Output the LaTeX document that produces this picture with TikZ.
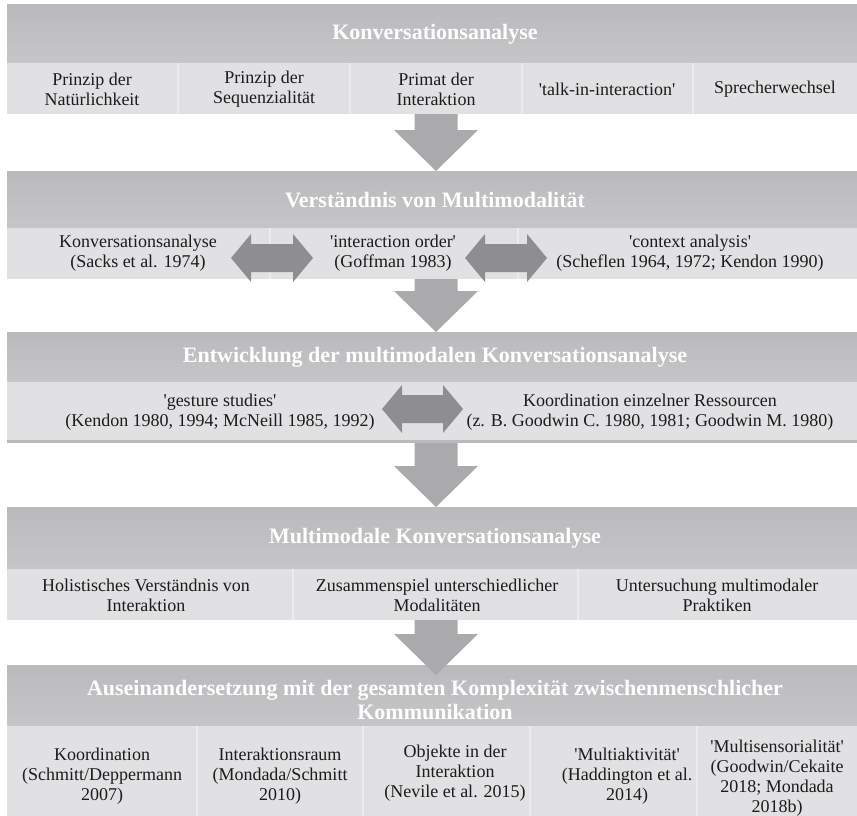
\documentclass[tikz,border=0pt]{standalone}
\usepackage{fontspec}
\setmainfont{Liberation Serif}[Ligatures=TeXOff]
\usetikzlibrary{positioning}
\usepackage{xcolor}
\definecolor{headtop}{RGB}{186,186,188}
\definecolor{headbot}{RGB}{198,198,200}
\definecolor{cellgray}{RGB}{225,225,227}
\definecolor{cellline}{RGB}{236,236,238}
\definecolor{downgray}{RGB}{170,170,172}
\definecolor{sidegray}{RGB}{142,142,144}
\definecolor{txtgray}{RGB}{28,28,28}
\tikzstyle{header} = [
    top color=headtop,
    bottom color=headbot,
    draw=none
]
\tikzstyle{headtext} = [text=white, align=center, inner sep=0pt,
    font=\fontsize{22}{24}\selectfont\bfseries]
\tikzstyle{celltext} = [text=txtgray, align=center, inner sep=0pt,
    font=\fontsize{18}{20}\selectfont]
\tikzstyle{cellsep} = [draw=cellline, line width=1.5pt]

\begin{document}
\begin{tikzpicture}[x=1pt, y=-1pt]
\useasboundingbox (0,0) rectangle (857,816);

% Konversationsanalyse
\shade[header] (7,5) rectangle (857,63);
\fill[cellgray] (7,63) rectangle (857,114);
\foreach \x in {178,350,522,693} \draw[cellsep] (\x,63) -- (\x,114);
\node[headtext] (kahead) at (435,34) {Konversationsanalyse};
\node[celltext] (natur) at (92,89) {Prinzip der\\Natürlichkeit};
\node[celltext] (sequenz) at (264,89) {Prinzip der\\Sequenzialität};
\node[celltext] (primat) at (436,89) {Primat der\\Interaktion};
\node[celltext] (talk) at (607,89) {'talk-in-interaction'};
\node[celltext] (sprecher) at (775,89) {Sprecherwechsel};

% Verstaendnis von Multimodalitaet
\shade[header] (7,171) rectangle (857,228);
\fill[cellgray] (7,228) rectangle (857,279);
\foreach \x in {270,518} \draw[cellsep] (\x,228) -- (\x,279);
\node[headtext] (vmhead) at (435,200) {Verständnis von Multimodalität};
\node[celltext] (kasacks) at (138,253) {Konversationsanalyse\\(Sacks et al. 1974)};
\node[celltext] (goffman) at (393,253) {'interaction order'\\(Goffman 1983)};
\node[celltext] (scheflen) at (690,253) {'context analysis'\\(Scheflen 1964, 1972; Kendon 1990)};

% Entwicklung der multimodalen Konversationsanalyse
\shade[header] (7,332) rectangle (857,382);
\fill[cellgray] (7,382) rectangle (857,443);
\fill[headtop] (7,440) rectangle (857,443);
\node[headtext] (enthead) at (435,357) {Entwicklung der multimodalen Konversationsanalyse};
\node[celltext] (gesture) at (220,412) {'gesture studies'\\(Kendon 1980, 1994; McNeill 1985, 1992)};
\node[celltext] (ressourcen) at (650,412) {Koordination einzelner Ressourcen\\(z. B. Goodwin C. 1980, 1981; Goodwin M. 1980)};

% Multimodale Konversationsanalyse
\shade[header] (7,507) rectangle (857,569);
\fill[cellgray] (7,569) rectangle (857,620);
\foreach \x in {293,578} \draw[cellsep] (\x,569) -- (\x,620);
\node[headtext] (mkhead) at (435,538) {Multimodale Konversationsanalyse};
\node[celltext] (holist) at (146,595) {Holistisches Verständnis von\\Interaktion};
\node[celltext] (zusammen) at (437,595) {Zusammenspiel unterschiedlicher\\Modalitäten};
\node[celltext] (praktik) at (717,595) {Untersuchung multimodaler\\Praktiken};

% Auseinandersetzung mit der gesamten Komplexitaet
\shade[header] (7,665) rectangle (857,726);
\fill[cellgray] (7,726) rectangle (857,816);
\foreach \x in {197,363,530,697} \draw[cellsep] (\x,726) -- (\x,816);
\node[headtext] (komhead) at (435,700) {Auseinandersetzung mit der gesamten Komplexität zwischenmenschlicher\\Kommunikation};
\node[celltext] (koord) at (102,776) {Koordination\\(Schmitt/Deppermann\\2007)};
\node[celltext] (raum) at (280,776) {Interaktionsraum\\(Mondada/Schmitt\\2010)};
\node[celltext] (objekte) at (455,773) {Objekte in der\\Interaktion\\(Nevile et al. 2015)};
\node[celltext] (multiakt) at (627,776) {'Multiaktivität'\\(Haddington et al.\\2014)};
\node[celltext] (multisens) at (777,778) {'Multisensorialität'\\(Goodwin/Cekaite\\2018; Mondada\\2018b)};

% block arrows down (shaft top / head start / tip)
\foreach \ya/\yh/\yb in {114/130/171, 279/291/332, 443/466/507, 620/634/675}
  \fill[downgray] (414.5,\ya) -- (457.5,\ya) -- (457.5,\yh) -- (478,\yh)
    -- (436,\yb) -- (394,\yh) -- (414.5,\yh) -- cycle;

% block arrows both ways (left tip / right tip / middle)
\foreach \xa/\xb/\yc in {231/313/258, 465/547/258, 382/463/409}
  \fill[sidegray] (\xa,\yc) -- (\xa+20,\yc-24) -- (\xa+20,\yc-14) -- (\xb-20,\yc-14)
    -- (\xb-20,\yc-24) -- (\xb,\yc) -- (\xb-20,\yc+24) -- (\xb-20,\yc+14)
    -- (\xa+20,\yc+14) -- (\xa+20,\yc+24) -- cycle;
\end{tikzpicture}
\end{document}
